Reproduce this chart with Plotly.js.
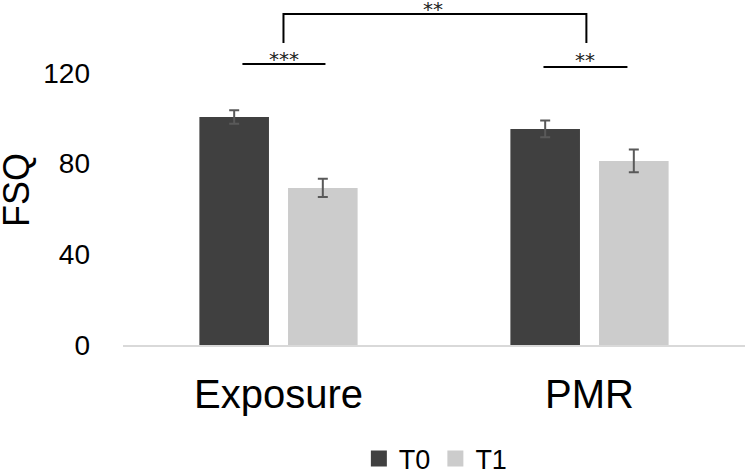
<!DOCTYPE html>
<html>
<head>
<meta charset="utf-8">
<script src="https://cdn.plot.ly/plotly-3.0.1.min.js"></script>
<style>
html,body{margin:0;padding:0;background:#fff;}
#chart{width:746px;height:476px;}
</style>
</head>
<body>
<div id="chart"></div>
<script>
var categories = ["Exposure", "PMR"];
var seriesNames = ["T0", "T1"];
var t0Values = [100.6, 95.3];
var t0Errors = [3.0, 3.7];
var t1Values = [69.3, 81.2];
var t1Errors = [4.0, 5.0];
var yTicks = [0, 40, 80, 120];
var yTitle = "FSQ";
var sigLabels = ["***", "**", "**"];

var FONT = "Liberation Sans, Arial, sans-serif";
var colors = ["#404040", "#cccccc"];

var errStyle = {type: "data", visible: true, color: "#595959", thickness: 2, width: 5};

var traces = [
  {type: "bar", name: seriesNames[0], x: categories, y: t0Values,
   marker: {color: colors[0]}, showlegend: false, hoverinfo: "skip",
   error_y: Object.assign({array: t0Errors}, errStyle)},
  {type: "bar", name: seriesNames[1], x: categories, y: t1Values,
   marker: {color: colors[1]}, showlegend: false, hoverinfo: "skip",
   error_y: Object.assign({array: t1Errors}, errStyle)},
  {type: "scatter", mode: "markers", name: seriesNames[0], x: [null], y: [null],
   marker: {symbol: "square", size: 17, color: colors[0]}, showlegend: true},
  {type: "scatter", mode: "markers", name: seriesNames[1], x: [null], y: [null],
   marker: {symbol: "square", size: 17, color: colors[1]}, showlegend: true}
];

var lineStyle = {color: "#000000", width: 2};
var starFont = {family: "DejaVu Sans", size: 20, color: "#222"};
var layout = {
  width: 746, height: 476,
  margin: {l: 123, r: 1, t: 0, b: 131, autoexpand: false},
  paper_bgcolor: "#ffffff", plot_bgcolor: "#ffffff",
  barmode: "group", bargap: 0.43, bargroupgap: 0.215,
  font: {family: FONT, color: "#000000"},
  xaxis: {
    type: "category", range: [-0.5, 1.5],
    showline: true, linecolor: "#d9d9d9", linewidth: 2,
    showgrid: false, zeroline: false, ticks: "",
    tickfont: {family: FONT, size: 40, color: "#000000"},
    ticklabelstandoff: 13
  },
  yaxis: {
    range: [0, 152.2], tickvals: yTicks, ticktext: yTicks.map(String),
    showline: false, showgrid: false, zeroline: false, ticks: "",
    tickfont: {family: FONT, size: 28, color: "#000000"},
    ticklabelstandoff: 32
  },
  showlegend: true,
  legend: {orientation: "h", x: 0.503, xanchor: "center", y: -0.33, yanchor: "middle",
           font: {family: FONT, size: 27, color: "#000000"}, itemwidth: 30,
           tracegroupgap: 0, bgcolor: "rgba(0,0,0,0)"},
  shapes: [
    {type: "line", xref: "x", yref: "y", x0: -0.116, x1: 0.151, y0: 124, y1: 124, line: lineStyle},
    {type: "line", xref: "x", yref: "y", x0: 0.852, x1: 1.122, y0: 122.6, y1: 122.6, line: lineStyle},
    {type: "path", xref: "x", yref: "y",
     path: "M 0.016,133.2 L 0.016,146 L 0.99,146 L 0.99,133.2", line: lineStyle}
  ],
  annotations: [
    {xref: "paper", yref: "paper", x: -0.172, y: 0.449, xanchor: "center", yanchor: "middle",
     text: yTitle, textangle: -90, showarrow: false,
     font: {family: FONT, size: 36, color: "#000000"}},
    {xref: "x", yref: "y", x: 0.019, y: 126.0, yanchor: "middle", text: sigLabels[0], showarrow: false, font: starFont},
    {xref: "x", yref: "y", x: 0.984, y: 125.6, yanchor: "middle", text: sigLabels[1], showarrow: false, font: starFont},
    {xref: "x", yref: "y", x: 0.498, y: 148.4, yanchor: "middle", text: sigLabels[2], showarrow: false, font: starFont}
  ]
};

Plotly.newPlot("chart", traces, layout, {displayModeBar: false, staticPlot: true});
</script>
</body>
</html>
